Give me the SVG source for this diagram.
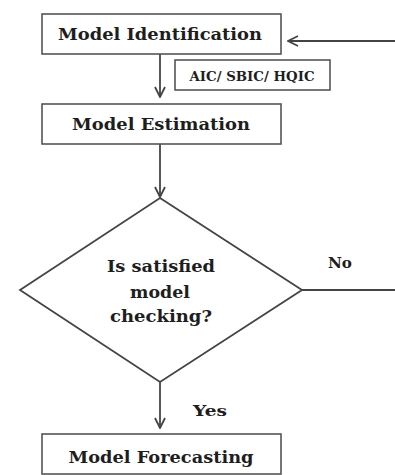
<svg xmlns="http://www.w3.org/2000/svg" width="395" height="475" viewBox="0 0 395 475">
<defs>
<style>
.box{fill:#fff;stroke:#555;stroke-width:1.6}
.ln{fill:none;stroke:#444;stroke-width:1.8}
.t{font-family:"DejaVu Serif","Liberation Serif",serif;font-weight:bold;fill:#1e1e1e;text-anchor:middle}
.m{font-size:17px}
.d{font-size:16px}
.s{font-size:12px}
</style>
<marker id="ah" viewBox="0 0 12 12" refX="11" refY="6" markerWidth="12" markerHeight="12" markerUnits="userSpaceOnUse" orient="auto">
<path d="M1,1 L11,6 L1,11" fill="none" stroke="#444" stroke-width="1.8"/>
</marker>
</defs>
<rect width="395" height="475" fill="#fff"/>
<g id="connectors">
<line class="ln" x1="160" y1="54" x2="160" y2="97" marker-end="url(#ah)"/>
<line class="ln" x1="160" y1="144" x2="160" y2="197" marker-end="url(#ah)"/>
<line class="ln" x1="160" y1="382" x2="160" y2="428" marker-end="url(#ah)"/>
<line class="ln" x1="302" y1="290" x2="395" y2="290"/>
<line class="ln" x1="395" y1="41" x2="288" y2="41" marker-end="url(#ah)"/>
<text class="t" x="340" y="268" style="font-size:14px" textLength="24" lengthAdjust="spacingAndGlyphs">No</text>
<text class="t" x="210" y="416" style="font-size:15px" textLength="34" lengthAdjust="spacingAndGlyphs">Yes</text>
</g>
<g id="identification">
<rect class="box" x="42" y="14" width="239" height="40"/>
<text class="t m" x="160" y="40" textLength="204" lengthAdjust="spacingAndGlyphs">Model Identification</text>
</g>
<g id="criteria">
<rect class="box" x="175" y="60" width="155" height="30"/>
<text class="t s" x="252" y="81" textLength="125" lengthAdjust="spacingAndGlyphs">AIC/ SBIC/ HQIC</text>
</g>
<g id="estimation">
<rect class="box" x="42" y="104" width="239" height="40"/>
<text class="t m" x="161" y="130" textLength="178" lengthAdjust="spacingAndGlyphs">Model Estimation</text>
</g>
<g id="checking">
<polygon class="box" points="160,198 302,290 160,382 20,290" style="stroke:#444;stroke-width:1.8"/>
<text class="t d" x="161" y="272" textLength="108" lengthAdjust="spacingAndGlyphs">Is satisfied</text>
<text class="t d" x="160" y="298" textLength="60" lengthAdjust="spacingAndGlyphs">model</text>
<text class="t d" x="161" y="322" textLength="102" lengthAdjust="spacingAndGlyphs">checking?</text>
</g>
<g id="forecasting">
<rect class="box" x="42" y="434" width="239" height="40"/>
<text class="t m" x="161" y="463" textLength="185" lengthAdjust="spacingAndGlyphs">Model Forecasting</text>
</g>
</svg>
